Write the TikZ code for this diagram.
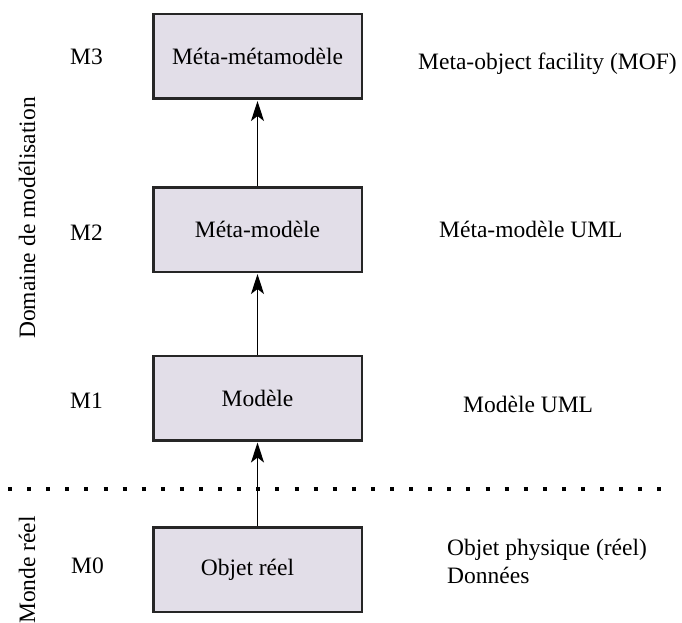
\documentclass[tikz,border=0pt]{standalone}
\usepackage{fontspec}
\setmainfont{Liberation Serif}
\usetikzlibrary{arrows.meta}
\definecolor{boxfill}{RGB}{226,222,232}
\begin{document}
\begin{tikzpicture}[x=1pt,y=-1pt,
  every node/.style={font=\fontsize{23.5}{28}\selectfont, inner sep=0pt},
  levelbox/.style={draw=black!85, line width=2.5pt, fill=boxfill, minimum width=208.5pt, minimum height=84.5pt},
  lbl/.style={anchor=base west},
  link/.style={line width=1.6pt, shorten >=1pt, -{Stealth[length=20pt,width=13pt,inset=5pt]}}
]
\useasboundingbox (0,0) rectangle (682,623);

% boxes
\node[levelbox] (m3) at (257.5,56.5) {Méta-métamodèle};
\node[levelbox] (m2) at (257.5,229.5) {Méta-modèle};
\node[levelbox] (m1) at (257.5,398) {Modèle};
\node[levelbox] (m0) at (257.5,569.5) {\hspace{-20pt}Objet réel};

% arrows
\draw[link] (m0.north) -- (m1.south);
\draw[link] (m1.north) -- (m2.south);
\draw[link] (m2.north) -- (m3.south);

% separator
\draw[line width=4pt, dash pattern=on 4pt off 15.1pt] (8,489) -- (675,489);

% level labels
\node[lbl] (l3) at (70,65) {M3};
\node[lbl] (l2) at (70,240) {M2};
\node[lbl] (l1) at (70,408) {M1};
\node[lbl] (l0) at (71,573) {M0};

% domains
\node[rotate=90] (dm) at (27,218) {Domaine de modélisation};
\node[rotate=90] (dr) at (27,570) {Monde réel};

% right labels
\node[lbl] (r3) at (418,70) {Meta-object facility (MOF)};
\node[lbl] (r2) at (439,237) {Méta-modèle UML};
\node[lbl] (r1) at (463,412) {Modèle UML};
\node[lbl] (r0) at (447,555) {Objet physique (réel)};
\node[lbl] (r0b) at (447,583) {Données};
\end{tikzpicture}
\end{document}
